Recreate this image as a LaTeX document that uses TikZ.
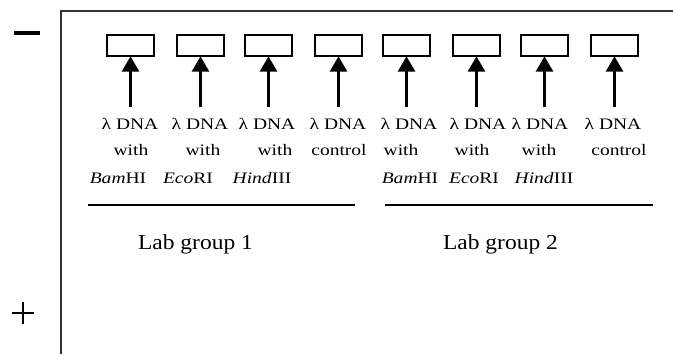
\documentclass[tikz,border=0pt]{standalone}
\usepackage{fontspec}
\setmainfont{Liberation Serif}
\newfontfamily\rowfont{Liberation Serif}[FakeStretch=1.22]
\newfontfamily\labfont{Liberation Serif}[FakeStretch=1.1]
\usetikzlibrary{arrows.meta}
\begin{document}
\begin{tikzpicture}[x=0.75pt,y=-0.75pt,
  well/.style={draw, line width=1.1pt, minimum width=35pt, minimum height=16pt, inner sep=0pt},
  load/.style={line width=2.6pt, -{Triangle[length=11.5pt,width=12.5pt]}, shorten >=-0.5pt},
  rowtxt/.style={anchor=base, inner sep=0pt, font=\rowfont\fontsize{12pt}{14pt}\selectfont},
  labtxt/.style={anchor=base, inner sep=0pt, font=\labfont\fontsize{16pt}{19pt}\selectfont},
  frame/.style={line width=1.5pt, draw=black!80},
  rule/.style={line width=1.1pt}]
\useasboundingbox (0,0) rectangle (673,354);
% frame
\coordinate (fb) at (61,354);
\coordinate (fc) at (61,11);
\coordinate (fr) at (673,11);
\draw[frame] (fb) -- (fc) -- (fr);
% electrodes
\coordinate (m1) at (14,33); \coordinate (m2) at (40,33);
\draw[line width=2.3pt] (m1) -- (m2);
\coordinate (p1) at (12,313); \coordinate (p2) at (34,313);
\coordinate (p3) at (23,302); \coordinate (p4) at (23,324);
\draw[line width=1.2pt] (p1) -- (p2) (p3) -- (p4);
% wells and arrows
\foreach \i/\cx in {1/130.5,2/200.5,3/268.5,4/338.5,5/406.5,6/476.5,7/544.5,8/614.5}{
  \node[well] (w\i) at (\cx,45.5) {};
  \coordinate (s\i) at (\cx,107);
  \draw[load] (s\i) -- (w\i.south);
}
% row 1
\foreach \i/\cx in {1/130,2/200,3/267,4/338,5/409,6/478,7/540,8/613}{
  \node[rowtxt] (a\i) at (\cx,129) {λ DNA};
}
% row 2
\foreach \i/\cx/\t in {1/131/with,2/203/with,3/275/with,4/339/control,5/401/with,6/472/with,7/539/with,8/619/control}{
  \node[rowtxt] (b\i) at (\cx,155) {\t};
}
% row 3
\node[rowtxt] (c1) at (118,183) {\textit{Bam}HI};
\node[rowtxt] (c2) at (188,183) {\textit{Eco}RI};
\node[rowtxt] (c3) at (262,183) {\textit{Hind}III};
\node[rowtxt] (c5) at (410,183) {\textit{Bam}HI};
\node[rowtxt] (c6) at (474,183) {\textit{Eco}RI};
\node[rowtxt] (c7) at (544,183) {\textit{Hind}III};
% group rules
\coordinate (g1a) at (88,205); \coordinate (g1b) at (355,205);
\coordinate (g2a) at (385,205); \coordinate (g2b) at (653,205);
\draw[rule] (g1a) -- (g1b);
\draw[rule] (g2a) -- (g2b);
% group labels
\node[labtxt] (lg1) at (195.5,249) {Lab group 1};
\node[labtxt] (lg2) at (500.5,249) {Lab group 2};
\end{tikzpicture}
\end{document}
